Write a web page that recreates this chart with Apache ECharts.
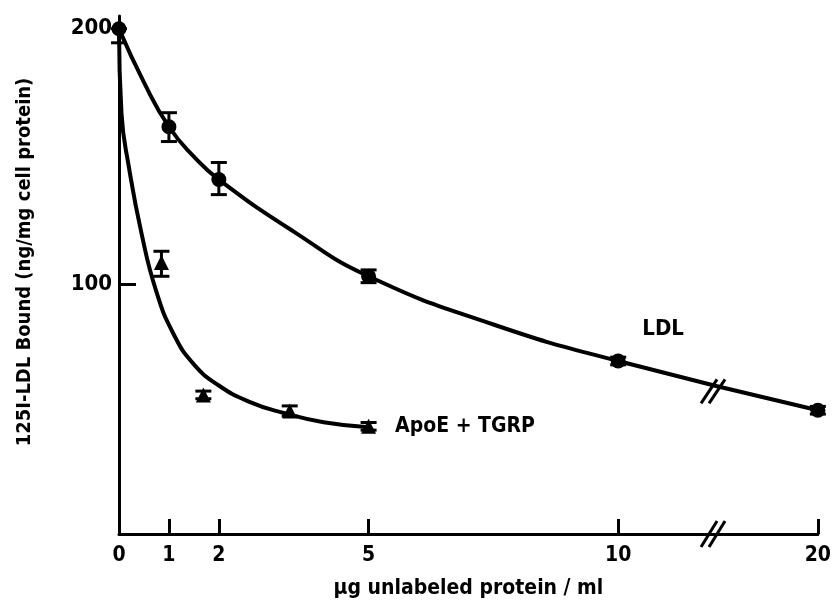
<!DOCTYPE html>
<html>
<head>
<meta charset="utf-8">
<script src="https://cdn.jsdelivr.net/npm/echarts@6/dist/echarts.min.js"></script>
<style>
html,body{margin:0;padding:0;background:#fff;}
#c{width:834px;height:604px;}
</style>
</head>
<body>
<div id="c"></div>
<script>
// ---- data (real x values; axis is broken between 10 and 20) ----
const xTickValues = [0, 1, 2, 5, 10, 20];
const yTickValues = [100, 200];

const ldlX     = [0, 1, 2, 5, 10, 20];
const ldlY     = [200, 161.6, 140.9, 103.0, 69.8, 50.5];
const ldlErrLo = [194.5, 155.8, 135.0, 100.5, 68.3, 49.0];
const ldlErrHi = [200, 167.1, 147.6, 105.5, 71.3, 52.0];

const apoX     = [0.85, 1.69, 3.42, 5];
const apoY     = [108.4, 56.5, 50.2, 44.2];
const apoErrLo = [103.0, 55.0, 48.2, 42.7];
const apoErrHi = [112.8, 58.0, 52.2, 45.7];

// fitted curves
const ldlCurveX = [0, 0.5, 1, 1.5, 2, 3.5, 5, 7.5, 10, 20];
const ldlCurveY = [200, 179, 161.6, 149.9, 140.9, 120.5, 103.0, 84.1, 69.8, 50.5];
const apoCurveX = [0, 0.05, 0.2, 0.45, 0.75, 1.1, 1.5, 2.0, 2.6, 3.3, 4.1, 5];
const apoCurveY = [200, 166.8, 145.6, 119.9, 96.9, 80.1, 68.5, 60.2, 53.9, 49.4, 45.8, 43.8];

const seriesNames = ['LDL', 'ApoE + TGRP'];
const xBreakAt = 14.75;      // real x where the break marks sit
const ldlBreakY = 57.9;      // LDL curve value at the break

// axis break mapping: 0..10 linear, 10..20 compressed
function toAxis(x) { return x <= 10 ? x : 10 + (x - 10) * 0.4; }
function fromAxis(v) { return v <= 10 ? v : 10 + (v - 10) / 0.4; }

const FONT = '"DejaVu Sans Condensed", "Liberation Sans Narrow", "DejaVu Sans", sans-serif';
const zip = (xs, ys) => xs.map((x, i) => [toAxis(x), ys[i]]);

const chart = echarts.init(document.getElementById('c'));

function errRender() {
  return function (params, api) {
    const x = api.value(0);
    const pHi = api.coord([x, api.value(1)]);
    const pLo = api.coord([x, api.value(2)]);
    const w = 8;
    const st = { stroke: '#000', lineWidth: 3 };
    return {
      type: 'group',
      children: [
        { type: 'line', shape: { x1: pHi[0], y1: pHi[1], x2: pLo[0], y2: pLo[1] }, style: st },
        { type: 'line', shape: { x1: pHi[0] - w, y1: pHi[1], x2: pHi[0] + w, y2: pHi[1] }, style: st },
        { type: 'line', shape: { x1: pLo[0] - w, y1: pLo[1], x2: pLo[0] + w, y2: pLo[1] }, style: st }
      ]
    };
  };
}

const option = {
  backgroundColor: '#fff',
  animation: false,
  grid: { left: 119, right: 16, top: 16, bottom: 69, containLabel: false },
  xAxis: {
    type: 'value', min: 0, max: toAxis(20),
    splitLine: { show: false },
    axisLine: { show: true, onZero: false, lineStyle: { color: '#000', width: 3 } },
    axisTick: { show: true, inside: true, length: 15, lineStyle: { color: '#000', width: 3 },
                customValues: xTickValues.map(toAxis) },
    axisLabel: { show: true, margin: 11, color: '#000', fontFamily: FONT, fontWeight: 'bold', fontSize: 21,
                 customValues: xTickValues.map(toAxis),
                 formatter: v => String(Math.round(fromAxis(v))) },
    name: 'μg unlabeled protein / ml', nameLocation: 'middle', nameGap: 44,
    nameTextStyle: { color: '#000', fontFamily: FONT, fontWeight: 'bold', fontSize: 21 }
  },
  yAxis: {
    type: 'value', min: 2, max: 205,
    splitLine: { show: false },
    axisLine: { show: true, onZero: false, lineStyle: { color: '#000', width: 3 } },
    axisTick: { show: true, inside: true, length: 17, lineStyle: { color: '#000', width: 3 },
                customValues: [100] },
    axisLabel: { show: true, margin: 7, color: '#000', fontFamily: FONT, fontWeight: 'bold', fontSize: 22,
                 customValues: yTickValues, formatter: v => String(v) }
  },
  series: [
    { name: seriesNames[0] + ' fit', type: 'line', data: zip(ldlCurveX, ldlCurveY), showSymbol: false,
      smooth: 0.5, lineStyle: { color: '#000', width: 4 }, silent: true },
    { name: seriesNames[1] + ' fit', type: 'line', data: zip(apoCurveX, apoCurveY), showSymbol: false,
      smooth: 0.5, lineStyle: { color: '#000', width: 4 }, silent: true },
    { name: seriesNames[0] + ' err', type: 'custom', renderItem: errRender(), clip: false,
      data: ldlX.map((x, i) => [toAxis(x), ldlErrHi[i], ldlErrLo[i]]) },
    { name: seriesNames[1] + ' err', type: 'custom', renderItem: errRender(), clip: false,
      data: apoX.map((x, i) => [toAxis(x), apoErrHi[i], apoErrLo[i]]) },
    { name: seriesNames[0], type: 'scatter', symbol: 'circle', symbolSize: 15, clip: false,
      itemStyle: { color: '#000', opacity: 1 }, data: zip(ldlX, ldlY) },
    { name: seriesNames[1], type: 'scatter', symbol: 'triangle', symbolSize: 15, clip: false,
      itemStyle: { color: '#000', opacity: 1 }, data: zip(apoX, apoY),
      label: { show: true, position: 'right', distance: 19, color: '#000', opacity: 1, fontFamily: FONT,
               fontWeight: 'bold', fontSize: 21,
               formatter: p => p.dataIndex === apoX.length - 1 ? seriesNames[1] : '' } }
  ]
};
chart.setOption(option);

// decorations placed through the chart's own scales
const ldlLabelPos = chart.convertToPixel({ gridIndex: 0 }, [10.9, 82.2]);
const axisBreak = chart.convertToPixel({ gridIndex: 0 }, [toAxis(xBreakAt), 2]);
const lineBreak = chart.convertToPixel({ gridIndex: 0 }, [toAxis(xBreakAt), ldlBreakY]);

function slashes(cx, cy, h) {
  const dx = 6, half = h / 2, lean = 8;
  return [-dx / 2 - 1, dx / 2 + 1].map(off => ({
    type: 'line',
    shape: { x1: cx + off - lean, y1: cy + half, x2: cx + off + lean, y2: cy - half },
    style: { stroke: '#000', lineWidth: 3 }, z: 100
  }));
}

chart.setOption({
  graphic: [
    { type: 'text', x: ldlLabelPos[0], y: ldlLabelPos[1], z: 100,
      style: { text: seriesNames[0], fill: '#000', font: 'bold 22px ' + FONT,
               textAlign: 'center', textVerticalAlign: 'middle' } },
    { type: 'text', x: 25, y: 262, rotation: Math.PI / 2, z: 100,
      style: { text: '125I-LDL Bound (ng/mg cell protein)', fill: '#000', font: 'bold 20px ' + FONT,
               textAlign: 'center', textVerticalAlign: 'middle' } },
    ...slashes(axisBreak[0], axisBreak[1], 26),
    ...slashes(lineBreak[0], lineBreak[1], 24)
  ]
});
</script>
</body>
</html>
